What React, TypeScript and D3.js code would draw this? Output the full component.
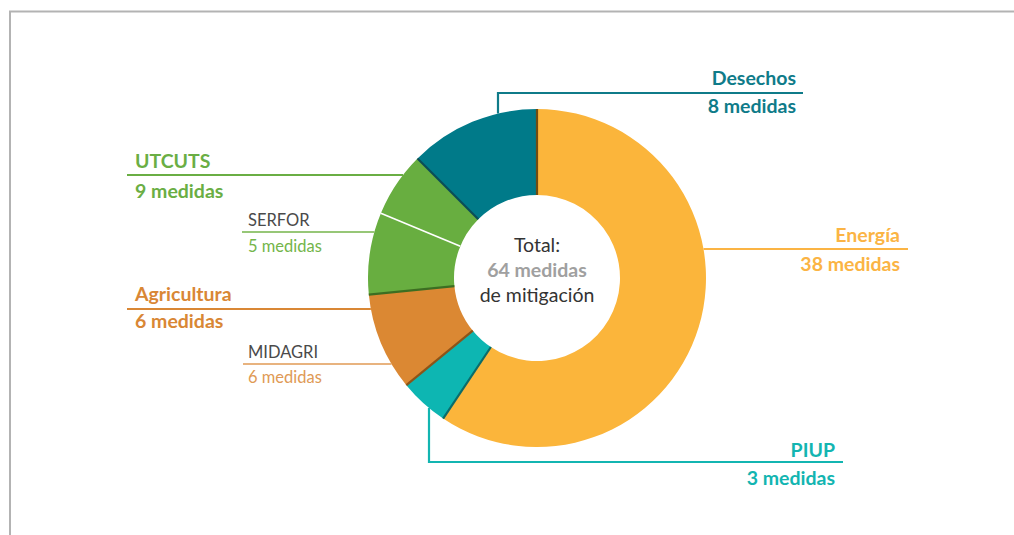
import React from 'react';
import * as d3 from 'd3';

// sectors of the donut, clockwise from 12 o'clock
const sectors = ['Energía', 'PIUP', 'Agricultura', 'UTCUTS', 'Desechos'];
const counts = [38, 3, 6, 9, 8];

// sub-groups drawn inside a sector (start at the sector's start angle)
const subNames = ['MIDAGRI', 'SERFOR'];
const subParents = ['Agricultura', 'UTCUTS'];
const subCounts = [6, 5];

const total = d3.sum(counts);

const fill: Record<string, string> = {
  'Energía': '#fbb53b',
  PIUP: '#0db6b2',
  Agricultura: '#db8833',
  UTCUTS: '#68ae40',
  Desechos: '#007a89',
};
const edge: Record<string, string> = {
  'Energía': '#6e4c12',
  PIUP: '#0a6c6a',
  Agricultura: '#8c5418',
  UTCUTS: '#3c6e22',
  Desechos: '#0c4d57',
};
const textCol: Record<string, string> = {
  'Energía': '#fbb444',
  PIUP: '#13b5b1',
  Agricultura: '#d98735',
  UTCUTS: '#6aae44',
  Desechos: '#0f7b89',
};
const subCol: Record<string, string> = {
  MIDAGRI: '#e09a55',
  SERFOR: '#74b54a',
};

const W = 1014;
const H = 535;
const cx = 537;
const cy = 278;
const R = 169;
const r0 = 83;

// label layout: side, leader y (or elbow x), text anchor x, line end x
type Lab = { side: 'L' | 'R'; lineY: number; elbowX?: number; textX: number; lineEnd: number; top: number; bottom: number };
const layout: Record<string, Lab> = {
  'Energía': { side: 'R', lineY: 249, textX: 900, lineEnd: 908, top: 242, bottom: 271 },
  Desechos: { side: 'R', lineY: 93, elbowX: 498, textX: 796, lineEnd: 803, top: 85, bottom: 113 },
  UTCUTS: { side: 'L', lineY: 175, textX: 135, lineEnd: 127, top: 168, bottom: 198 },
  Agricultura: { side: 'L', lineY: 309, textX: 135, lineEnd: 127, top: 301, bottom: 328 },
  PIUP: { side: 'R', lineY: 462, elbowX: 429, textX: 835, lineEnd: 843, top: 457, bottom: 485 },
};
const subLayout: Record<string, Lab> = {
  SERFOR: { side: 'L', lineY: 232, textX: 248, lineEnd: 242, top: 226, bottom: 252 },
  MIDAGRI: { side: 'L', lineY: 364, textX: 248, lineEnd: 243, top: 358, bottom: 383 },
};

const FONT = 'Lato, "Open Sans", sans-serif';

const edgeX = (y: number, side: 'L' | 'R') => {
  const dy = y - cy;
  const dx = Math.sqrt(R * R - dy * dy);
  return side === 'L' ? cx - dx : cx + dx;
};
const edgeY = (x: number, y: number) => {
  const dx = x - cx;
  const dy = Math.sqrt(R * R - dx * dx);
  return y < cy ? cy - dy : cy + dy;
};

export default function App() {
  const pie = d3
    .pie<number>()
    .sort(null)
    .value((d) => d)
    .startAngle(0)
    .endAngle(2 * Math.PI);
  const arcs = pie(counts);
  const arc = d3.arc<d3.PieArcDatum<number>>().innerRadius(r0).outerRadius(R);
  const pt = (a: number, rad: number) => [cx + rad * Math.sin(a), cy - rad * Math.cos(a)];
  const angle = d3.scaleLinear().domain([0, total]).range([0, 2 * Math.PI]);

  const renderLabel = (name: string, lab: Lab, count: number, main: boolean) => {
    let path: string;
    if (lab.elbowX !== undefined) {
      const y0 = edgeY(lab.elbowX, lab.lineY);
      path = `M${lab.elbowX},${y0}V${lab.lineY}H${lab.lineEnd}`;
    } else {
      const x0 = edgeX(lab.lineY, lab.side);
      path = `M${x0},${lab.lineY}H${lab.lineEnd}`;
    }
    const anchor = lab.side === 'L' ? 'start' : 'end';
    const col = main ? textCol[name] : subCol[name];
    return (
      <g key={name}>
        <path d={path} fill="none" stroke={col} strokeWidth={main ? 2.2 : 1.5} />
        <text
          x={lab.textX}
          y={lab.top}
          textAnchor={anchor}
          fontFamily={FONT}
          fontSize={main ? 19.5 : 16.5}
          fontWeight={main ? 700 : 400}
          fill={main ? col : '#4a4a4a'}
        >
          {name}
        </text>
        <text
          x={lab.textX}
          y={lab.bottom}
          textAnchor={anchor}
          fontFamily={FONT}
          fontSize={main ? 19.5 : 16.5}
          fontWeight={main ? 700 : 400}
          fill={col}
        >
          {`${count} medidas`}
        </text>
      </g>
    );
  };

  return (
    <svg width={W} height={H} style={{ position: 'absolute', left: 0, top: 0, background: '#fff' }}>
      <path d={`M10,${H}V11.5H${W}`} fill="none" stroke="#b3b3b3" strokeWidth={2} />
      <g>
        {arcs.map((a, i) => (
          <path key={sectors[i]} d={arc(a) as string} transform={`translate(${cx},${cy})`} fill={fill[sectors[i]]} />
        ))}
        {subNames.map((s, i) => {
          const p = arcs[sectors.indexOf(subParents[i])];
          const a = p.startAngle + angle(subCounts[i]);
          if (a >= p.endAngle - 1e-6) return null;
          const [x1, y1] = pt(a, r0);
          const [x2, y2] = pt(a, R);
          return <line key={s} x1={x1} y1={y1} x2={x2} y2={y2} stroke="#fff" strokeWidth={1.6} />;
        })}
        {arcs.map((a, i) => {
          const [x1, y1] = pt(a.startAngle, r0);
          const [x2, y2] = pt(a.startAngle, R);
          return (
            <line key={'e' + i} x1={x1} y1={y1} x2={x2} y2={y2} stroke={edge[sectors[i]]} strokeWidth={2.2} />
          );
        })}
      </g>
      {sectors.map((s, i) => renderLabel(s, layout[s], counts[i], true))}
      {subNames.map((s, i) => renderLabel(s, subLayout[s], subCounts[i], false))}
      <g fontFamily={FONT} textAnchor="middle" fontSize={19.5}>
        <text x={cx} y={252} fill="#333">Total:</text>
        <text x={cx} y={277} fill="#a0a0a0" fontWeight={700}>{`${total} medidas`}</text>
        <text x={cx} y={302} fill="#333">de mitigación</text>
      </g>
    </svg>
  );
}
